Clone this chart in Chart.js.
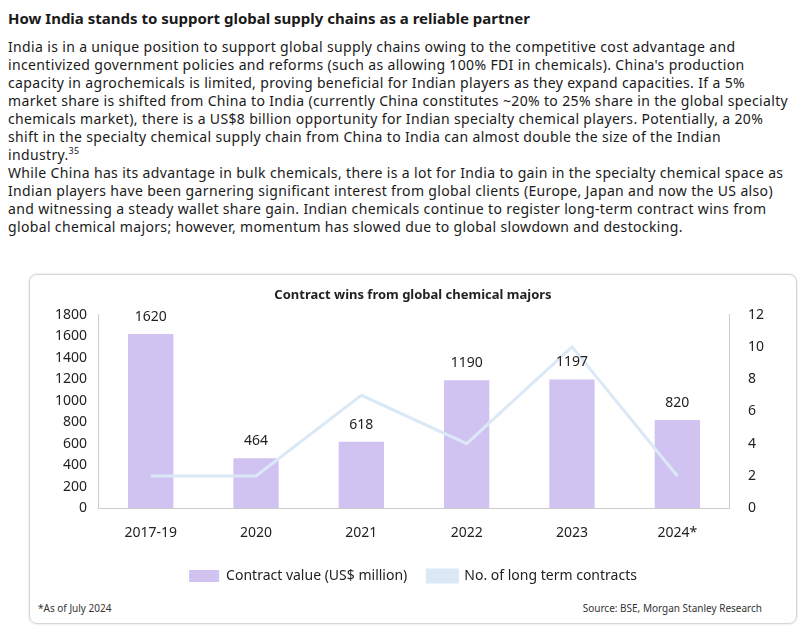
<!DOCTYPE html>
<html>
<head>
<meta charset="utf-8">
<script src="https://cdn.jsdelivr.net/npm/chart.js@4"></script>
<style>
  body { margin: 0; width: 800px; height: 626px; background: #fff; font-family: "Noto Sans", sans-serif; color: #1a1a1a; position: relative; overflow: hidden; }
  h1 { position: absolute; left: 8px; top: 8px; margin: 0; font-size: 15px; font-weight: 700; }
  .txt { position: absolute; left: 8px; width: 785px; margin: 0; font-size: 14px; line-height: 18px; letter-spacing: 0.35px; }
  sup { font-size: 9px; line-height: 0; }
  .box { position: absolute; left: 29px; top: 274px; width: 766px; height: 348px; border: 1px solid #d6d6d6; border-radius: 8px; box-shadow: 0 0 2px #ccc; }
  .wrap { position: absolute; left: 0; top: 8px; width: 766px; height: 310px; }
  .note { position: absolute; bottom: 8px; font-size: 10px; color: #333; }
</style>
</head>
<body>
<h1>How India stands to support global supply chains as a reliable partner</h1>
<p class="txt" style="top:38px">India is in a unique position to support global supply chains owing to the competitive cost advantage and incentivized government policies and reforms (such as allowing 100% FDI in chemicals). China's production capacity in agrochemicals is limited, proving beneficial for Indian players as they expand capacities. If a 5% market share is shifted from China to India (currently China constitutes ~20% to 25% share in the global specialty chemicals market), there is a US$8 billion opportunity for Indian specialty chemical players. Potentially, a 20% shift in the specialty chemical supply chain from China to India can almost double the size of the Indian industry.<sup>35</sup></p>
<p class="txt" style="top:164px">While China has its advantage in bulk chemicals, there is a lot for India to gain in the specialty chemical space as Indian players have been garnering significant interest from global clients (Europe, Japan and now the US also) and witnessing a steady wallet share gain. Indian chemicals continue to register long-term contract wins from global chemical majors; however, momentum has slowed due to global slowdown and destocking.</p>
<div class="box">
  <div class="wrap"><canvas id="c"></canvas></div>
  <div class="note" style="left:8px">*As of July 2024</div>
  <div class="note" style="right:34px">Source: BSE, Morgan Stanley Research</div>
</div>
<script>
const categories = ['2017-19', '2020', '2021', '2022', '2023', '2024*'];
const contractValue = [1620, 464, 618, 1190, 1197, 820];
const contractCount = [2, 2, 7, 4, 10, 2];

// value labels above the bars (dataset 1 is the bar series)
const barLabels = {
  id: 'barLabels',
  afterDatasetsDraw(chart) {
    const ctx = chart.ctx;
    const meta = chart.getDatasetMeta(1);
    ctx.save();
    ctx.font = '14px "Noto Sans"';
    ctx.fillStyle = '#222';
    ctx.textAlign = 'center';
    ctx.textBaseline = 'bottom';
    meta.data.forEach((bar, i) => {
      ctx.fillText(contractValue[i], bar.x, bar.y - 10);
    });
    ctx.restore();
  }
};

Chart.defaults.font.family = '"Noto Sans", sans-serif';
Chart.defaults.color = '#222';

new Chart(document.getElementById('c'), {
  type: 'bar',
  data: {
    labels: categories,
    datasets: [
      {
        type: 'line',
        label: 'No. of long term contracts',
        data: contractCount,
        yAxisID: 'y1',
        borderColor: '#dbe8f6',
        backgroundColor: '#dbe8f6',
        borderWidth: 3,
        pointRadius: 0,
        tension: 0,
        order: 0
      },
      {
        label: 'Contract value (US$ million)',
        data: contractValue,
        yAxisID: 'y',
        backgroundColor: '#d0c2f1',
        barPercentage: 0.86,
        categoryPercentage: 0.5,
        order: 1
      }
    ]
  },
  options: {
    responsive: true,
    maintainAspectRatio: false,
    animation: false,
    layout: { padding: { left: 22, right: 22 } },
    plugins: {
      title: { display: true, text: 'Contract wins from global chemical majors', font: { size: 13, weight: 'bold' }, padding: { top: 4, bottom: 12 } },
      legend: {
        position: 'bottom',
        reverse: true,
        labels: { font: { size: 14 }, boxWidth: 30, boxHeight: 12, padding: 20 }
      },
      tooltip: { enabled: false }
    },
    scales: {
      x: {
        grid: { display: false },
        border: { color: '#ccc' },
        ticks: { font: { size: 14 }, padding: 8 }
      },
      y: {
        min: 0, max: 1800,
        ticks: { stepSize: 200, font: { size: 14 }, callback: v => String(v) },
        grid: { display: false },
        border: { color: '#ccc' }
      },
      y1: {
        position: 'right',
        min: 0, max: 12,
        ticks: { stepSize: 2, font: { size: 14 }, padding: 10 },
        grid: { display: false },
        border: { color: '#ccc' }
      }
    }
  },
  plugins: [barLabels]
});
</script>
</body>
</html>
